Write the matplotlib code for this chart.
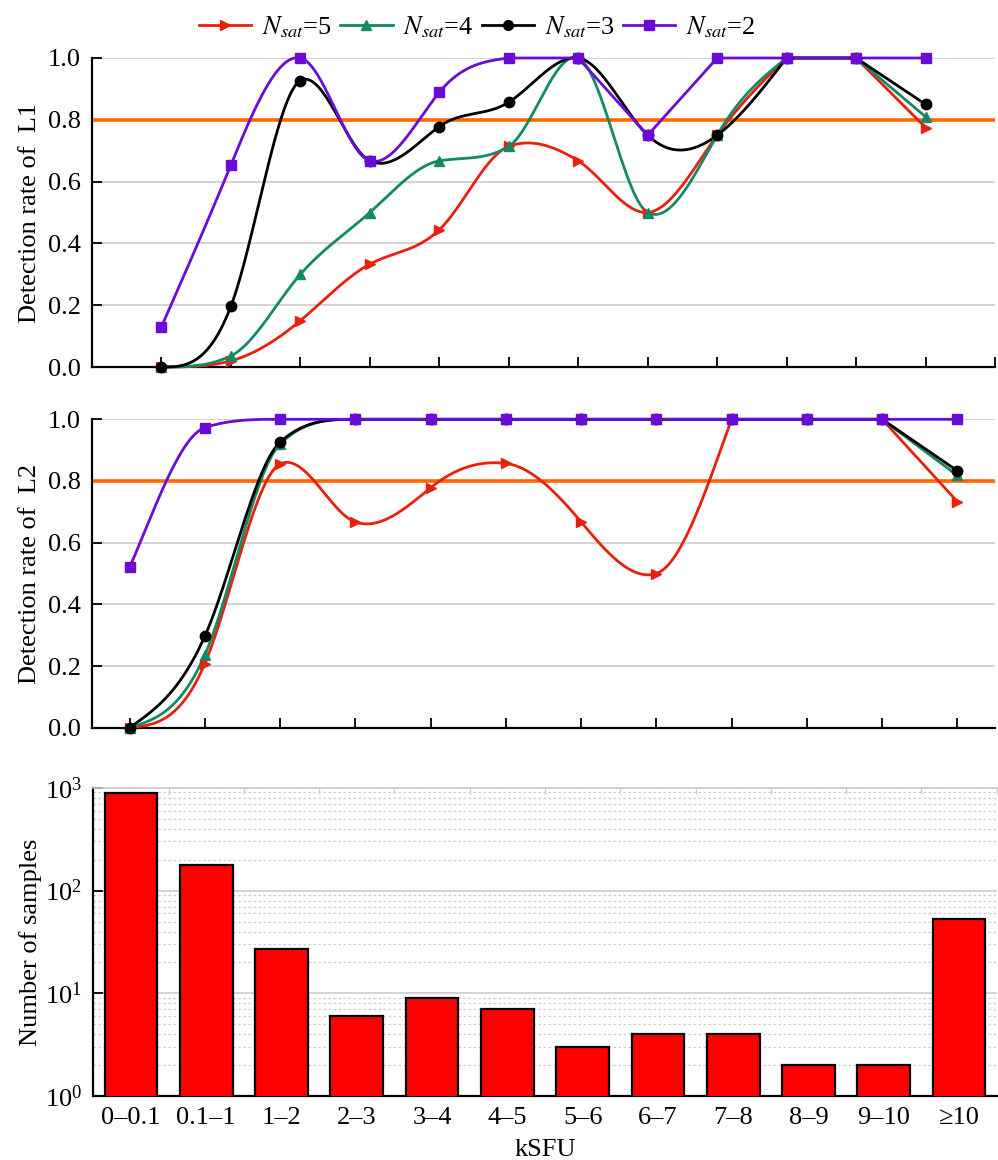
import numpy as np
import matplotlib
matplotlib.use("Agg")
import matplotlib.pyplot as plt
from matplotlib.lines import Line2D
from matplotlib.ticker import FixedLocator, FormatStrFormatter, LogLocator, NullFormatter

plt.rcParams["font.family"] = ["Liberation Serif", "DejaVu Serif"]
plt.rcParams["mathtext.fontset"] = "stix"

# kSFU bins
categories = ["0\u20130.1", "0.1\u20131", "1\u20132", "2\u20133", "3\u20134", "4\u20135",
              "5\u20136", "6\u20137", "7\u20138", "8\u20139", "9\u201310", "\u226510"]

# Detection rate of L1 for each number of satellites
l1_nsat5 = [0.0, 0.02, 0.15, 0.333, 0.444, 0.714, 0.667, 0.5, 0.75, 1.0, 1.0, 0.775]
l1_nsat4 = [0.0, 0.036, 0.30, 0.5, 0.667, 0.714, 1.0, 0.5, 0.75, 1.0, 1.0, 0.81]
l1_nsat3 = [0.0, 0.197, 0.927, 0.667, 0.778, 0.857, 1.0, 0.75, 0.75, 1.0, 1.0, 0.85]
l1_nsat2 = [0.13, 0.654, 1.0, 0.667, 0.889, 1.0, 1.0, 0.75, 1.0, 1.0, 1.0, 1.0]

# Detection rate of L2 for each number of satellites
l2_nsat5 = [0.0, 0.208, 0.855, 0.667, 0.778, 0.857, 0.667, 0.5, 1.0, 1.0, 1.0, 0.733]
l2_nsat4 = [0.0, 0.236, 0.92, 1.0, 1.0, 1.0, 1.0, 1.0, 1.0, 1.0, 1.0, 0.818]
l2_nsat3 = [0.0, 0.297, 0.926, 1.0, 1.0, 1.0, 1.0, 1.0, 1.0, 1.0, 1.0, 0.833]
l2_nsat2 = [0.52, 0.973, 1.0, 1.0, 1.0, 1.0, 1.0, 1.0, 1.0, 1.0, 1.0, 1.0]

# Sample counts per bin
sample_counts = [880, 177, 27, 6, 9, 7, 3, 4, 4, 2, 2, 53]

threshold = 0.8

series_labels = [r"$N_{sat}$=5", r"$N_{sat}$=4", r"$N_{sat}$=3", r"$N_{sat}$=2"]
series_colors = ["#E8200C", "#138A63", "#000000", "#6A0CD6"]
series_markers = [">", "^", "o", "s"]


def spline_slopes(xs, ys):
    """Node slopes of a natural cubic spline, tamed at monotone runs and extrema."""
    n = len(xs)
    h = np.diff(xs)
    d = np.diff(ys) / h
    if n == 2:
        return np.array([d[0], d[0]])
    A = np.zeros((n, n))
    rhs = np.zeros(n)
    A[0, 0] = A[-1, -1] = 1.0
    for i in range(1, n - 1):
        A[i, i - 1] = h[i - 1]
        A[i, i] = 2 * (h[i - 1] + h[i])
        A[i, i + 1] = h[i]
        rhs[i] = 6 * (d[i] - d[i - 1])
    M = np.linalg.solve(A, rhs)
    m = np.empty(n)
    for i in range(n - 1):
        m[i] = d[i] - h[i] * (2 * M[i] + M[i + 1]) / 6
    m[-1] = d[-1] + h[-1] * (M[-2] + 2 * M[-1]) / 6
    for i in range(1, n - 1):
        if d[i - 1] * d[i] > 0:
            lim = 3 * min(abs(d[i - 1]), abs(d[i]))
            m[i] = np.sign(d[i]) * min(abs(m[i]), lim)
        elif d[i - 1] * d[i] < 0:
            m[i] *= 0.5
    for i, di in ((0, d[0]), (n - 1, d[-1])):
        if m[i] * di < 0:
            m[i] = 0.0
        m[i] = np.sign(m[i]) * min(abs(m[i]), 3 * abs(di))
    return m


def hermite(xs, ys, m, per_seg=60):
    px, py = [], []
    for i in range(len(xs) - 1):
        h = xs[i + 1] - xs[i]
        t = np.linspace(0, 1, per_seg, endpoint=(i == len(xs) - 2))
        h00 = 2 * t ** 3 - 3 * t ** 2 + 1
        h10 = t ** 3 - 2 * t ** 2 + t
        h01 = -2 * t ** 3 + 3 * t ** 2
        h11 = t ** 3 - t ** 2
        px.append(xs[i] + t * h)
        py.append(h00 * ys[i] + h10 * h * m[i] + h01 * ys[i + 1] + h11 * h * m[i + 1])
    return np.concatenate(px), np.concatenate(py)


def curve(ys):
    """Smooth curve up to where the rate saturates at 1, straight segments after."""
    ys = np.asarray(ys, float)
    xs = np.arange(len(ys), dtype=float)
    k = len(ys) - 1
    for i in range(len(ys) - 1):
        if ys[i] >= 1.0 and ys[i + 1] >= 1.0:
            k = i
            break
    if k < 1:
        return xs, ys
    sx, sy = hermite(xs[:k + 1], ys[:k + 1], spline_slopes(xs[:k + 1], ys[:k + 1]))
    return np.concatenate([sx, xs[k + 1:]]), np.concatenate([sy, ys[k + 1:]])


fig = plt.figure(figsize=(9.98, 11.6), dpi=100)
FS = 19

ax1 = fig.add_axes([92 / 998, 1 - 367 / 1160, 903 / 998, 309 / 1160])
ax2 = fig.add_axes([92 / 998, 1 - 727.7 / 1160, 903 / 998, 308.4 / 1160])
ax3 = fig.add_axes([93.3 / 998, 1 - 1096.3 / 1160, 903.4 / 998, 308.6 / 1160])

x = np.arange(len(categories))


def rate_panel(ax, data, ylabel, xlim, xticks):
    ax.axhline(threshold, color="#FF6600", lw=2.6, zorder=2)
    for ys, c, m in zip(data, series_colors, series_markers):
        cx, cy = curve(ys)
        ax.plot(cx, cy, color=c, lw=2.0, zorder=3, clip_on=False)
        ax.plot(x, ys, linestyle="none", marker=m, color=c, ms=7.5, zorder=4, clip_on=False)
    ax.set_xlim(*xlim)
    ax.set_ylim(0, 1.0)
    ax.set_yticks(np.arange(0, 1.01, 0.2))
    ax.yaxis.set_major_formatter(FormatStrFormatter("%.1f"))
    ax.set_xticks(xticks)
    ax.set_xticklabels([])
    ax.grid(axis="y", color="#cccccc", lw=1.2, zorder=0)
    ax.set_axisbelow(True)
    for s in ("top", "right"):
        ax.spines[s].set_visible(False)
    for s in ("left", "bottom"):
        ax.spines[s].set_linewidth(1.6)
    ax.tick_params(direction="in", length=7, width=1.3, labelsize=FS, pad=8)
    ax.set_ylabel(ylabel, fontsize=FS)
    ax.yaxis.set_label_coords(-0.057, 0.5)


rate_panel(ax1, [l1_nsat5, l1_nsat4, l1_nsat3, l1_nsat2], "Detection rate of  L1",
           (-1, 12), np.arange(0, 13))
rate_panel(ax2, [l2_nsat5, l2_nsat4, l2_nsat3, l2_nsat2], "Detection rate of  L2",
           (-0.5, 11.5), np.arange(0, 12))

# Sample count histogram
ax3.set_yscale("log")
ax3.bar(x, sample_counts, width=0.7, color="#FF0000", edgecolor="black", lw=1.6, zorder=3)
ax3.set_ylim(1, 1000)
ax3.set_xlim(-0.5, 11.5)
ax3.set_xticks(x)
ax3.set_xticklabels(categories, fontsize=FS)
ax3.yaxis.set_major_locator(LogLocator(base=10, numticks=10))
ax3.yaxis.set_minor_locator(LogLocator(base=10, subs=np.arange(2, 10), numticks=20))
ax3.yaxis.set_minor_formatter(NullFormatter())
ax3.grid(axis="y", which="major", color="#cccccc", lw=1.2, zorder=0)
ax3.grid(axis="y", which="minor", color="#cccccc", lw=0.9, ls=(0, (2, 2)), zorder=0)
ax3.set_axisbelow(True)
ax3.xaxis.set_minor_locator(FixedLocator(np.arange(0.5, 11.6, 1.0)))
ax3.tick_params(axis="x", which="major", length=0, labelsize=FS, pad=8)
ax3.tick_params(axis="x", which="minor", bottom=False, top=True, direction="in",
                length=4, width=1.0, color="#cccccc")
ax3.tick_params(axis="y", which="major", direction="in", length=7, width=1.3,
                labelsize=FS, pad=8)
ax3.tick_params(axis="y", which="minor", left=False)
ax3.spines["right"].set_visible(False)
ax3.spines["top"].set_color("#cccccc")
ax3.spines["top"].set_linewidth(1.2)
for s in ("left", "bottom"):
    ax3.spines[s].set_linewidth(1.6)
ax3.set_ylabel("Number of samples", fontsize=FS)
ax3.yaxis.set_label_coords(-0.057, 0.5)
ax3.set_xlabel("kSFU", fontsize=FS, labelpad=7)

handles = [Line2D([], [], color=c, lw=2.0, marker=m, ms=7)
           for c, m in zip(series_colors, series_markers)]
fig.legend(handles, series_labels, loc="center", bbox_to_anchor=(0.478, 1 - 27 / 1160),
           ncol=4, frameon=False, fontsize=FS, handlelength=2.0, handletextpad=0.4,
           columnspacing=0.3, borderaxespad=0)

fig.savefig("out.png", dpi=100)
